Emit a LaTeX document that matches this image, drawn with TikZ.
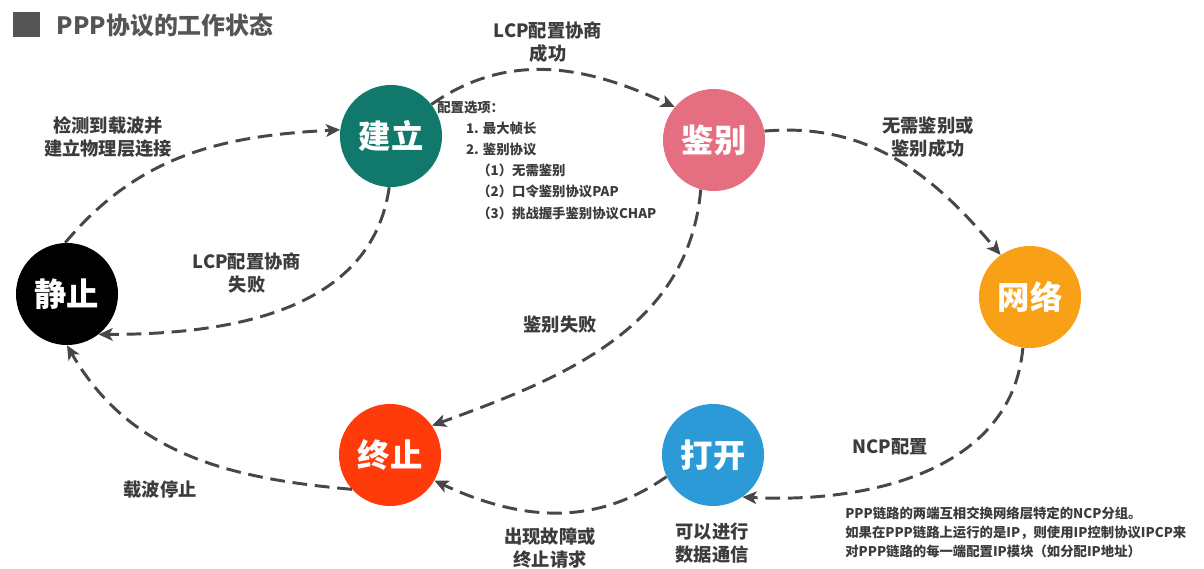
\documentclass[tikz,border=0pt]{standalone}
\usepackage{fontspec}
\setmainfont{Noto Sans CJK SC}
\usetikzlibrary{arrows.meta}
\definecolor{titlegray}{HTML}{555555}
\definecolor{txtgray}{HTML}{3C3C3C}
\definecolor{linegray}{HTML}{474747}
\definecolor{jzcol}{HTML}{000000}
\definecolor{jlcol}{HTML}{10796C}
\definecolor{jbcol}{HTML}{E56E80}
\definecolor{wlcol}{HTML}{F9A116}
\definecolor{dkcol}{HTML}{2B9AD7}
\definecolor{zzcol}{HTML}{FF3B0B}
\begin{document}
\begin{tikzpicture}[x=0.025cm,y=0.025cm,
    state/.style={circle,fill=#1,minimum size=2.55cm,inner sep=0pt,text=white,
        font=\fontsize{23}{23}\selectfont\bfseries},
    trans/.style={draw=linegray,line width=2.1pt,dash pattern=on 10.5pt off 5.5pt,
        -{Stealth[length=10pt,width=9pt,inset=2.5pt]}},
    lbl/.style={align=center,text=txtgray,font=\fontsize{13}{16.5}\selectfont\bfseries},
    note/.style={align=left,text=txtgray,inner sep=0pt,font=\fontsize{9.5}{#1}\selectfont\bfseries}]
    \useasboundingbox (0,0) rectangle (1204,568);

    % Title
    \fill[titlegray] (13,531) rectangle (40,556);
    \node[anchor=west,text=titlegray,font=\fontsize{17}{20}\selectfont\bfseries] (title) at (52,543) {PPP协议的工作状态};

    % States
    \node[state=jzcol] (jz) at (67,274) {静止};
    \node[state=jlcol] (jl) at (391,432) {建立};
    \node[state=jbcol] (jb) at (714,428) {鉴别};
    \node[state=wlcol] (wl) at (1030,271) {网络};
    \node[state=dkcol] (dk) at (713,113) {打开};
    \node[state=zzcol] (zz) at (390,113) {终止};

    % Transitions
    \draw[trans] (jz.92) to[out=50,in=183] (jl.173);
    \draw[trans] (jl.268) to[out=262,in=0] (jz.-52);
    \draw[trans] (jl.38) to[out=35,in=155] (jb.140);
    \draw[trans] (jb.10) to[out=5,in=130] (wl.125);
    \draw[trans] (jb.255) to[out=265,in=20] (zz.35);
    \draw[trans] (wl.262) to[out=265,in=-3] (dk.-55);
    \draw[trans] (dk.205) to[out=215,in=-25] (zz.-30);
    \draw[trans] (zz.222) to[out=175,in=-60] (jz.-90);

    % Transition labels
    \node[lbl] (l1) at (108,431) {检测到载波并\\建立物理层连接};
    \node[lbl] (l2) at (247,295) {LCP配置协商\\失败};
    \node[lbl] (l3) at (548,526) {LCP配置协商\\成功};
    \node[lbl] (l4) at (928,431) {无需鉴别或\\鉴别成功};
    \node[lbl] (l5) at (560,243) {鉴别失败};
    \node[lbl] (l6) at (890,121) {NCP配置};
    \node[lbl] (l7) at (550,20) {出现故障或\\终止请求};
    \node[lbl] (l8) at (712,25) {可以进行\\数据通信};
    \node[lbl] (l9) at (160,78) {载波停止};

    % Notes
    \node[note=15,anchor=north west] (opts) at (437,467) {配置选项：\\
        \hspace{0.72cm}1. 最大帧长\\
        \hspace{0.72cm}2. 鉴别协议\\
        \hspace{1.0cm}（1）无需鉴别\\
        \hspace{1.0cm}（2）口令鉴别协议PAP\\
        \hspace{1.0cm}（3）挑战握手鉴别协议CHAP};
    \node[note=13.5,anchor=north west] (ncp) at (845,61) {PPP链路的两端互相交换网络层特定的NCP分组。\\
        如果在PPP链路上运行的是IP，则使用IP控制协议IPCP来\\
        对PPP链路的每一端配置IP模块（如分配IP地址）};
\end{tikzpicture}
\end{document}
